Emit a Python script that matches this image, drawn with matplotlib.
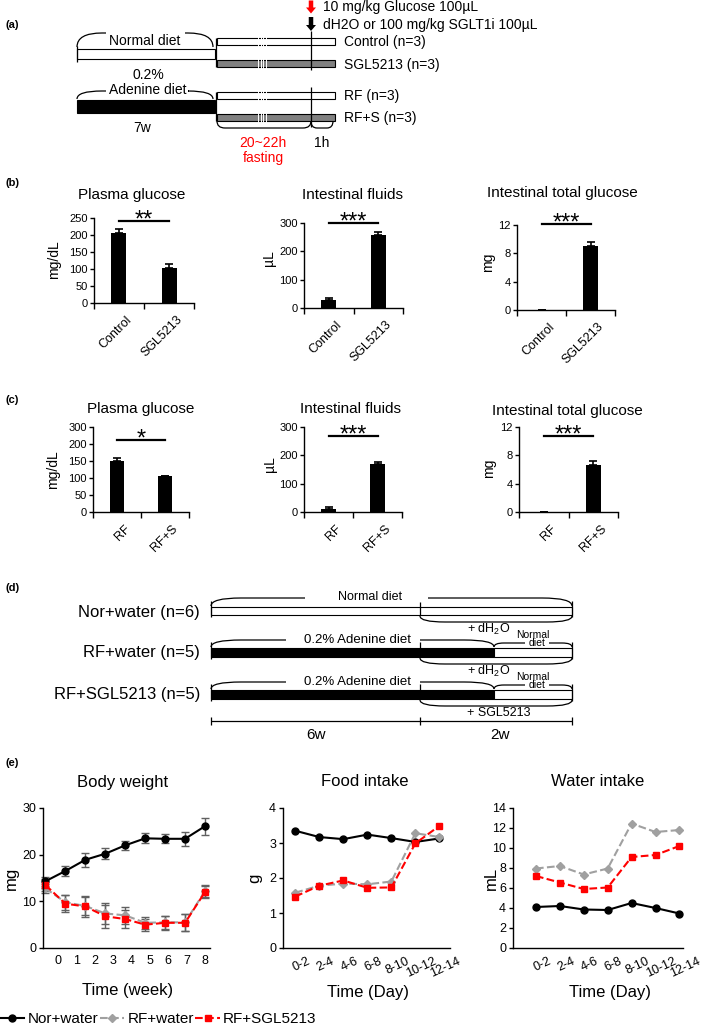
import numpy as np
import matplotlib
matplotlib.use('Agg')
import matplotlib.pyplot as plt
from matplotlib.path import Path
from matplotlib.patches import PathPatch, Rectangle, FancyArrow
from matplotlib.lines import Line2D
from matplotlib.transforms import ScaledTranslation

plt.rcParams['font.family'] = ['Liberation Sans', 'DejaVu Sans']
plt.rcParams['mathtext.fontset'] = 'custom'
plt.rcParams['mathtext.rm'] = 'Liberation Sans'
plt.rcParams['axes.linewidth'] = 1.0

W, H = 709, 1034

# ---- (b) glucose load, normal mice
b_groups = ['Control', 'SGL5213']
b_plasma = [205, 102]
b_plasma_err = [12, 12]
b_fluid = [28, 258]
b_fluid_err = [8, 9]
b_gluc = [0.05, 9.0]
b_gluc_err = [0.0, 0.6]

# ---- (c) glucose load, RF mice
c_groups = ['RF', 'RF+S']
c_plasma = [150, 105]
c_plasma_err = [10, 2]
c_fluid = [10, 168]
c_fluid_err = [6, 10]
c_gluc = [0.05, 6.7]
c_gluc_err = [0.0, 0.5]

# ---- (e) body weight / intake
weeks = ['0', '1', '2', '3', '4', '5', '6', '7', '8']
bw_nor = [14.3, 16.5, 18.9, 20.2, 22.0, 23.5, 23.4, 23.4, 26.1]
bw_nor_err = [1.0, 1.0, 1.5, 1.2, 1.0, 1.1, 1.0, 1.5, 1.8]
bw_rfw = [12.8, 9.8, 9.0, 7.4, 7.0, 5.4, 5.5, 5.5, 12.2]
bw_rfw_err = [1.0, 1.6, 2.0, 2.3, 1.8, 1.3, 1.4, 1.8, 1.3]
bw_rfs = [13.5, 9.5, 8.9, 6.8, 6.2, 5.0, 5.4, 5.4, 12.0]
bw_rfs_err = [1.2, 1.8, 2.2, 2.5, 2.0, 1.3, 1.5, 1.8, 1.3]

days = ['0-2', '2-4', '4-6', '6-8', '8-10', '10-12', '12-14']
food_nor = [3.35, 3.17, 3.11, 3.24, 3.14, 3.03, 3.13]
food_rfw = [1.58, 1.78, 1.84, 1.82, 1.90, 3.28, 3.17]
food_rfs = [1.47, 1.78, 1.93, 1.72, 1.73, 2.99, 3.49]
water_nor = [4.1, 4.2, 3.85, 3.8, 4.5, 4.0, 3.45]
water_rfw = [7.95, 8.2, 7.35, 7.95, 12.45, 11.6, 11.8]
water_rfs = [7.2, 6.55, 5.9, 6.05, 9.1, 9.3, 10.2]

fig = plt.figure(figsize=(W / 100, H / 100), dpi=100)

# overlay axes in pixel coords for the schematics and free text
ax0 = fig.add_axes([0, 0, 1, 1])
ax0.set_xlim(0, W)
ax0.set_ylim(H, 0)
ax0.axis('off')


def pax(x0, y0, x1, y1):
    ax = fig.add_axes([x0 / W, 1 - y1 / H, (x1 - x0) / W, (y1 - y0) / H])
    ax.set_facecolor('none')
    ax.spines['top'].set_visible(False)
    ax.spines['right'].set_visible(False)
    return ax


def txt(x, y, s, size=10, **kw):
    kw.setdefault('ha', 'center')
    kw.setdefault('va', 'center')
    ax0.text(x, y, s, fontsize=size, **kw)


def line(xs, ys, lw=0.9, color='black'):
    ax0.plot(xs, ys, color=color, lw=lw, solid_capstyle='butt')


def rect(x0, y0, x1, y1, fc, lw=0.8):
    ax0.add_patch(Rectangle((x0, y0), x1 - x0, y1 - y0, facecolor=fc,
                            edgecolor='black', linewidth=lw))


def brace(x0, x1, y_end, y_top, r, gap=None, lw=0.9):
    verts = [(x0, y_end), (x0, y_top), (x0 + r, y_top)]
    codes = [Path.MOVETO, Path.CURVE3, Path.CURVE3]
    if gap:
        verts += [(gap[0], y_top), (gap[1], y_top)]
        codes += [Path.LINETO, Path.MOVETO]
    verts += [(x1 - r, y_top), (x1, y_top), (x1, y_end)]
    codes += [Path.LINETO, Path.CURVE3, Path.CURVE3]
    ax0.add_patch(PathPatch(Path(verts, codes), fill=False, lw=lw))


# panel letters
for lab, y in [('(a)', 25), ('(b)', 183), ('(c)', 400), ('(d)', 588), ('(e)', 763)]:
    txt(5, y, lab, size=8, ha='left', fontweight='bold')

# ================= (a) protocol =================
grey = '#808080'
rect(77, 49, 215, 59, 'white')
line([77, 77], [46, 62])
rect(217, 38, 335, 45, 'white')
rect(217, 60, 335, 67, grey)
line([216, 216], [38, 67])
rect(77, 100, 215, 113, 'black')
rect(217, 92, 335, 99, 'white')
rect(217, 114, 335, 121, grey)
line([216, 216], [92, 121])
for xd in [258, 260.5, 263, 265.5]:
    line([xd, xd], [36, 69], lw=0.7, color='white')
    line([xd, xd], [90, 123], lw=0.7, color='white')
line([311, 311], [31, 70])
line([311, 311], [87, 127])
ax0.add_patch(FancyArrow(311, 0.5, 0, 13, width=4.5, head_width=10, head_length=6,
                         length_includes_head=True, color='red', lw=0))
ax0.add_patch(FancyArrow(311, 17, 0, 14, width=4.5, head_width=10, head_length=6,
                         length_includes_head=True, color='black', lw=0))
txt(323, 7, '10 mg/kg Glucose 100µL', ha='left')
txt(323, 25, 'dH2O or 100 mg/kg SGLT1i 100µL', ha='left')
txt(344, 42, 'Control (n=3)', ha='left')
txt(344, 65, 'SGL5213 (n=3)', ha='left')
txt(344, 96, 'RF (n=3)', ha='left')
txt(344, 118, 'RF+S (n=3)', ha='left')
brace(77, 213, 47, 33, 25, gap=(106, 185))
txt(145, 41, 'Normal diet')
txt(148, 75, '0.2%')
brace(77, 213, 99, 91, 25, gap=(106, 189))
txt(148, 90, 'Adenine diet')
txt(142, 128, '7w')
brace(217, 311, 121, 128, 8)
brace(311, 333, 121, 128, 6)
txt(263, 143, '20~22h', color='red')
txt(263, 158, 'fasting', color='red')
txt(322, 143, '1h')


# ================= (b), (c) bar charts =================
def bar_panel(box, title, tpos, groups, vals, errs, ymax, yticks, ylab, lpos,
              stars, sig_frac, yticklabels=None):
    ax = pax(*box)
    ax.bar(range(len(vals)), vals, width=0.3, color='black',
           yerr=[[0] * len(errs), errs],
           error_kw=dict(ecolor='black', elinewidth=1.2, capsize=3, capthick=1.2))
    ax.set_xlim(-0.5, 1.5)
    ax.set_ylim(0, ymax)
    ax.set_xticks([-0.5, 0.5, 1.5])
    ax.set_xticklabels([])
    ax.tick_params(axis='x', which='major', length=4, width=1, direction='out')
    ax.set_xticks([0, 1], minor=True)
    ax.set_xticklabels(groups, minor=True, rotation=45, ha='right',
                       rotation_mode='anchor', fontsize=9)
    ax.tick_params(axis='x', which='minor', length=0, pad=4)
    for lbl in ax.get_xticklabels(minor=True):
        lbl.set_transform(lbl.get_transform()
                          + ScaledTranslation(0.07, -0.05, fig.dpi_scale_trans))
    ax.set_yticks(yticks)
    if yticklabels:
        ax.set_yticklabels(yticklabels)
    ax.tick_params(axis='y', length=3, width=1, labelsize=8, pad=1.5)
    tr = ax.get_xaxis_transform()
    ax.plot([0, 1], [sig_frac, sig_frac], color='black', lw=1.6,
            transform=tr, clip_on=False)
    ax.text(0.5, sig_frac - 0.06, stars, transform=tr, ha='center',
            va='baseline', fontsize=17)
    txt(tpos[0], tpos[1], title, size=11)
    txt(lpos[0], lpos[1], ylab, size=10, rotation=90)
    return ax


bar_panel((94, 218, 194, 303), 'Plasma glucose', (132, 195), b_groups,
          b_plasma, b_plasma_err, 250, [0, 50, 100, 150, 200, 250], 'mg/dL',
          (54, 260), '**', 0.965)
bar_panel((304, 223, 403, 308), 'Intestinal fluids', (352, 195), b_groups,
          b_fluid, b_fluid_err, 300, [0, 100, 200, 300], 'µL', (269, 258),
          '***', 1.0)
bar_panel((517, 225, 615, 310), 'Intestinal total glucose', (562, 193),
          b_groups, b_gluc, b_gluc_err, 12, [0, 4, 8, 12], 'mg', (488, 262),
          '***', 1.01)

bar_panel((93, 427, 189, 512), 'Plasma glucose', (141, 409), c_groups,
          c_plasma, c_plasma_err, 250, [0, 50, 100, 150, 200, 250], 'mg/dL',
          (53, 470), '*', 0.847,
          yticklabels=['0', '50', '100', '150', '200', '300'])
bar_panel((304, 427, 402, 512), 'Intestinal fluids', (351, 409), c_groups,
          c_fluid, c_fluid_err, 300, [0, 100, 200, 300], 'µL', (270, 464),
          '***', 0.894)
bar_panel((519, 427, 618, 512), 'Intestinal total glucose', (567, 411),
          c_groups, c_gluc, c_gluc_err, 12, [0, 4, 8, 12], 'mg', (489, 468),
          '***', 0.894)

# ================= (d) protocol =================
txt(200, 612, 'Nor+water (n=6)', size=12, ha='right')
txt(200, 653, 'RF+water (n=5)', size=12, ha='right')
txt(200, 695, 'RF+SGL5213 (n=5)', size=12, ha='right')

# normal diet row
rect(211, 607, 572, 615, 'white')
brace(211, 572, 606, 598, 30, gap=(305, 428))
txt(370, 597, 'Normal diet', size=9)
line([420, 420], [602, 615])
line([211, 211], [601, 617])
line([572, 572], [601, 617])
brace(420, 572, 616, 622, 25)
txt(489, 629, '+ dH$_2$O', size=9)

# RF rows
for yt, yb, ytxt, lower, lx in [(648, 657, 640, '+ dH$_2$O', 489),
                                (690, 699, 682, '+ SGL5213', 499)]:
    rect(211, yt, 494, yb, 'black')
    rect(494, yt, 572, yb, 'white')
    brace(211, 494, yt - 1, ytxt, 30, gap=(286, 420))
    txt(357, ytxt, '0.2% Adenine diet', size=9.5)
    brace(494, 572, yt - 1, ytxt + 3, 10, gap=(525, 549))
    txt(533, ytxt - 5, 'Normal', size=7.5)
    txt(537, ytxt + 3, 'diet', size=7.5)
    line([420, 420], [yt - 6, yb])
    line([211, 211], [yt - 6, yb + 2])
    line([572, 572], [yt - 6, yb + 2])
    brace(420, 572, yb + 1, yb + 7, 25)
    txt(lx, yb + 14, lower, size=9)

line([211, 572], [721, 721])
for xt in [211, 420, 572]:
    line([xt, xt], [717, 725])
txt(316, 735, '6w', size=11)
txt(500, 735, '2w', size=11)

# ================= (e) line charts =================
red = '#ff0000'
gry = '#a0a0a0'
ebar = '#606060'


def style_e(ax, yticks, ylab, lx, title, tx):
    ax.set_yticks(yticks)
    ax.tick_params(axis='y', length=3, width=1, labelsize=9, pad=2)
    ax.tick_params(axis='x', length=0, labelsize=9, pad=5)
    txt(lx, 878, ylab, size=12, rotation=90)
    txt(tx, 782, title, size=12)


# body weight
ax1 = pax(43, 808, 210, 948)
xw = np.arange(len(bw_nor))
ax1.errorbar(xw, bw_nor, yerr=bw_nor_err, color='black', lw=1.5,
             marker='o', ms=5, ecolor=ebar, elinewidth=1, capsize=3, clip_on=False)
ax1.errorbar(xw, bw_rfw, yerr=bw_rfw_err, color=gry, lw=1.5, ls='--',
             marker='D', ms=4.5, ecolor=ebar, elinewidth=1, capsize=3, clip_on=False)
ax1.errorbar(xw, bw_rfs, yerr=bw_rfs_err, color=red, lw=1.5, ls='--',
             marker='s', ms=5, ecolor=ebar, elinewidth=1, capsize=3, clip_on=False)
ax1.set_xlim(-0.12, 8.25)
ax1.set_ylim(0, 30)
ax1.set_xticks(np.linspace(0.62, 8, len(weeks)))
ax1.set_xticklabels(weeks)
style_e(ax1, [0, 10, 20, 30], 'mg', 11, 'Body weight', 123)
txt(128, 991, 'Time (week)', size=12)

# food intake
ax2 = pax(283, 808, 450, 948)
xd = np.arange(len(days))
ax2.plot(xd, food_nor, color='black', lw=1.5, marker='o', ms=5, clip_on=False)
ax2.plot(xd, food_rfw, color=gry, lw=1.5, ls='--', marker='D', ms=4.5, clip_on=False)
ax2.plot(xd, food_rfs, color=red, lw=1.5, ls='--', marker='s', ms=5, clip_on=False)
ax2.set_xlim(-0.51, 6.44)
ax2.set_ylim(0, 4)
ax2.set_xticks(xd)
ax2.set_xticklabels(days, rotation=25, ha='center')
style_e(ax2, [0, 1, 2, 3, 4], 'g', 255, 'Food intake', 365)
txt(368, 992, 'Time (Day)', size=12)

# water intake
ax3 = pax(513, 808, 683, 948)
ax3.plot(xd, water_nor, color='black', lw=1.5, marker='o', ms=5, clip_on=False)
ax3.plot(xd, water_rfw, color=gry, lw=1.5, ls='--', marker='D', ms=4.5, clip_on=False)
ax3.plot(xd, water_rfs, color=red, lw=1.5, ls='--', marker='s', ms=5, clip_on=False)
ax3.set_xlim(-0.96, 6.15)
ax3.set_ylim(0, 14)
ax3.set_xticks(xd)
ax3.set_xticklabels(days, rotation=25, ha='center')
style_e(ax3, [0, 2, 4, 6, 8, 10, 12, 14], 'mL', 491, 'Water intake', 598)
txt(610, 993, 'Time (Day)', size=12)

for ax in (ax2, ax3):
    for lbl in ax.get_xticklabels():
        lbl.set_transform(lbl.get_transform()
                          + ScaledTranslation(0.06, 0, fig.dpi_scale_trans))

handles = [Line2D([], [], color='black', lw=1.5, marker='o', ms=5),
           Line2D([], [], color=gry, lw=1.5, ls='--', marker='D', ms=4.5),
           Line2D([], [], color=red, lw=1.5, ls='--', marker='s', ms=5)]
fig.legend(handles, ['Nor+water', 'RF+water', 'RF+SGL5213'],
           loc='center left', bbox_to_anchor=(0.0, 1 - 1019 / H), ncol=3,
           frameon=False, fontsize=11, handlelength=1.6, handletextpad=0.2,
           columnspacing=0.1, borderaxespad=0, borderpad=0)

fig.savefig('out.png', dpi=100)
